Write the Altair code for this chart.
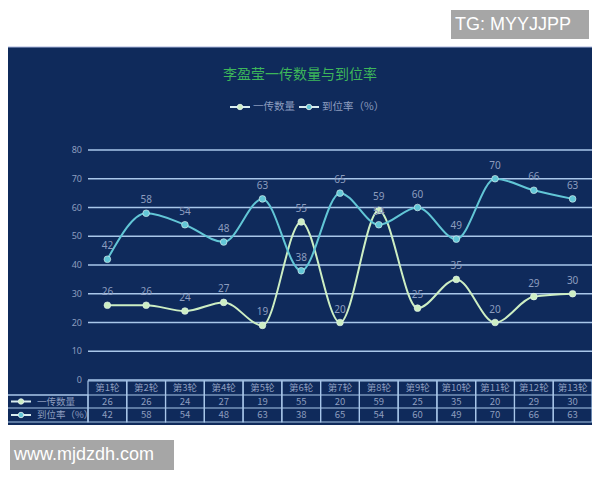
import pandas as pd
import altair as alt

rounds = ['第1轮', '第2轮', '第3轮', '第4轮', '第5轮', '第6轮', '第7轮',
          '第8轮', '第9轮', '第10轮', '第11轮', '第12轮', '第13轮']
yichuan = [26, 26, 24, 27, 19, 55, 20, 59, 25, 35, 20, 29, 30]
daowei = [42, 58, 54, 48, 63, 38, 65, 54, 60, 49, 70, 66, 63]
series = ['一传数量', '到位率（%）']
y_ticks = [0, 10, 20, 30, 40, 50, 60, 70, 80]
title_text = '李盈莹一传数量与到位率'
marks_text = ['TG: MYYJJPP', 'www.mjdzdh.com']

NAVY = '#0f2a5b'
GREEN = '#cdeec3'
CYAN = '#62c6d6'
GRID = '#a9c7ea'
LABEL = '#8d9dbf'
CJK = 'Noto Sans CJK SC'

W, H = 504, 230

df = pd.DataFrame({
    'round': rounds * 2,
    'value': yichuan + daowei,
    'series': [series[0]] * len(rounds) + [series[1]] * len(rounds),
})
rounds_df = pd.DataFrame({'round': rounds, 'a': yichuan, 'b': daowei})
ticks_df = pd.DataFrame({'value': y_ticks})
one = pd.DataFrame({'k': [0]})

xband = alt.X('round:N', sort=rounds, axis=None,
              scale=alt.Scale(type='band', paddingInner=0, paddingOuter=0))
yq = alt.Y('value:Q', scale=alt.Scale(domain=[0, 80]), axis=None)
color = alt.Color('series:N', legend=None,
                  scale=alt.Scale(domain=series, range=[GREEN, CYAN]))

# panel background and watermark boxes
panel = alt.Chart(one).mark_rect(fill=NAVY).encode(
    x=alt.value(-88), x2=alt.value(W), y=alt.value(-103), y2=alt.value(275))
panel_top = alt.Chart(one).mark_rule(color='#aab6dd', strokeWidth=1).encode(
    x=alt.value(-88), x2=alt.value(W), y=alt.value(-103))
box1 = alt.Chart(one).mark_rect(fill='#a6a6a6').encode(
    x=alt.value(363), x2=alt.value(501), y=alt.value(-140), y2=alt.value(-111))
box1_t = alt.Chart(pd.DataFrame({'t': [marks_text[0]]})).mark_text(
    align='left', baseline='middle', font='Liberation Sans', fontSize=18,
    color='white').encode(x=alt.value(367), y=alt.value(-125), text='t:N')
box2 = alt.Chart(one).mark_rect(fill='#a6a6a6').encode(
    x=alt.value(-78), x2=alt.value(86), y=alt.value(290), y2=alt.value(320))
box2_t = alt.Chart(pd.DataFrame({'t': [marks_text[1]]})).mark_text(
    align='left', baseline='middle', font='Liberation Sans', fontSize=18,
    color='white').encode(x=alt.value(-74), y=alt.value(305), text='t:N')

# title
title = alt.Chart(pd.DataFrame({'t': [title_text]})).mark_text(
    font=CJK, fontSize=14, color='#3db65a', baseline='middle').encode(
    x=alt.value(212), y=alt.value(-75), text='t:N')

# legend (hand drawn, like the original)
def legend_item(name, col, x0, y0, text_size, text_gap):
    d = pd.DataFrame({'t': [name]})
    seg = alt.Chart(d).mark_rule(color='#d9ecef', strokeWidth=2).encode(
        x=alt.value(x0), x2=alt.value(x0 + 20), y=alt.value(y0))
    dot = alt.Chart(d).mark_point(filled=True, size=30, fill=col, opacity=1,
                                  stroke='#e8f4f0', strokeWidth=0.8).encode(
        x=alt.value(x0 + 10), y=alt.value(y0))
    txt = alt.Chart(d).mark_text(align='left', baseline='middle', font=CJK,
                                 fontSize=text_size, color=LABEL).encode(
        x=alt.value(x0 + 20 + text_gap), y=alt.value(y0), text='t:N')
    return seg + dot + txt

leg = (legend_item(series[0], GREEN, 142, -43, 10.5, 3)
       + legend_item(series[1], CYAN, 211, -43, 10.5, 3))

# grid lines and y labels, drawn over the panel through the y scale
grid = alt.Chart(ticks_df).mark_rule(color=GRID, strokeWidth=1.6).encode(
    x=alt.value(0), x2=alt.value(W), y=yq)
ylab = alt.Chart(ticks_df).mark_text(align='right', baseline='middle',
                                     fontSize=9, font='Noto Sans', color=LABEL).encode(
    x=alt.value(-6), y=yq, text='value:Q')

base = alt.Chart(df).encode(x=xband, y=yq, color=color)
lines = base.mark_line(interpolate='monotone', strokeWidth=2)
points = base.mark_point(filled=True, size=45, opacity=1, stroke='#e6f5f0',
                         strokeWidth=0.6)
labels = base.mark_text(dy=-13, fontSize=10, font='Noto Sans').encode(
    color=alt.value(LABEL), text='value:Q')

# data table under the plot
ROW0, ROW1, ROW2, ROW3 = 231, 245, 258, 272
cells = alt.Chart(rounds_df).mark_rect(fill=None, stroke=GRID, strokeWidth=1.2).encode(
    x=xband, y=alt.value(ROW0), y2=alt.value(ROW3))
hline1 = alt.Chart(one).mark_rule(color=GRID, strokeWidth=1.2).encode(
    x=alt.value(-81), x2=alt.value(W), y=alt.value(ROW1))
hline2 = alt.Chart(one).mark_rule(color=GRID, strokeWidth=1.2).encode(
    x=alt.value(-81), x2=alt.value(W), y=alt.value(ROW2))
leftbox = alt.Chart(one).mark_rect(fill=None, stroke=GRID, strokeWidth=1.2).encode(
    x=alt.value(-81), x2=alt.value(0), y=alt.value(ROW1), y2=alt.value(ROW3))
tstyle = dict(fontSize=9.5, font=CJK, color=LABEL, baseline='middle')
head_t = alt.Chart(rounds_df).mark_text(**tstyle).encode(
    x=xband, y=alt.value((ROW0 + ROW1) / 2), text='round:N')
row1_t = alt.Chart(rounds_df).mark_text(**tstyle).encode(
    x=xband, y=alt.value((ROW1 + ROW2) / 2), text='a:Q')
row2_t = alt.Chart(rounds_df).mark_text(**tstyle).encode(
    x=xband, y=alt.value((ROW2 + ROW3) / 2), text='b:Q')
row_leg = (legend_item(series[0], GREEN, -77, (ROW1 + ROW2) / 2, 9.5, 6)
           + legend_item(series[1], CYAN, -77, (ROW2 + ROW3) / 2, 9.5, 6))

chart = alt.layer(
    panel, panel_top, box1, box1_t, box2, box2_t, title, leg,
    grid, ylab, lines, points, labels,
    cells, hline1, hline2, leftbox, head_t, row1_t, row2_t, row_leg,
).properties(
    width=W, height=H,
    autosize=alt.AutoSizeParams(type='none'),
    padding={'left': 80, 'top': 142, 'right': 0, 'bottom': 92},
    background='white',
).configure_view(stroke=None)

chart.save("out.html", embed_options={"renderer": "svg", "actions": False})
